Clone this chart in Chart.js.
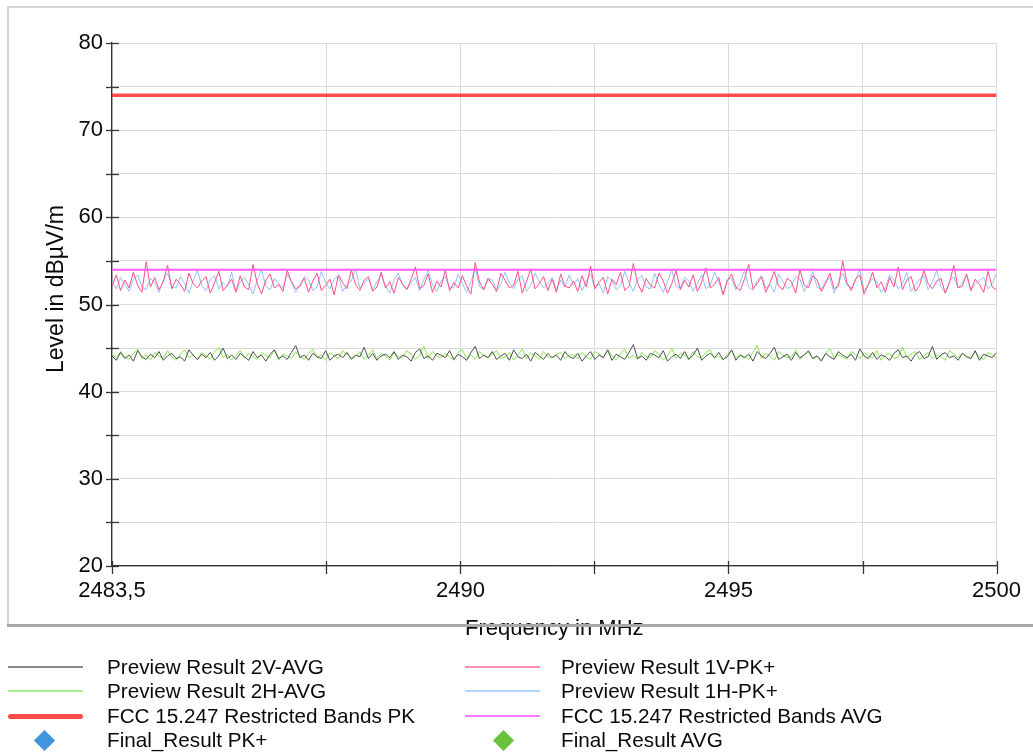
<!DOCTYPE html>
<html>
<head>
<meta charset="utf-8">
<script src="https://cdn.jsdelivr.net/npm/chart.js@4.4.1/dist/chart.umd.min.js"></script>
<style>
  body { margin: 0; background: #fff; font-family: "Liberation Sans", Arial, sans-serif; }
  #wrap { position: absolute; left: 0; top: 0; width: 1033px; height: 650px; }
  .legend { position: absolute; left: 0; top: 0; width: 1033px; height: 753px; pointer-events: none; }
  .row { position: absolute; height: 24px; line-height: 24px; font-size: 20.7px; color: #0a0a0a; white-space: nowrap; }
  .sample { position: absolute; height: 2px; }
  .diamond { position: absolute; width: 15px; height: 15px; transform: rotate(45deg); }
</style>
</head>
<body>
<div id="wrap"><canvas id="myChart" width="1033" height="650"></canvas></div>
<div class="legend" id="legend"></div>
<script>
// frequency range and ticks
const freqStart = 2483.5;
const freqEnd = 2500;
const xTickValues = [2483.5, 2487.5, 2490, 2492.5, 2495, 2497.5, 2500];
const xTickLabels = ['2483,5', '', '2490', '', '2495', '', '2500'];
const yTickLabels = ['20', '30', '40', '50', '60', '70', '80'];

// limit lines
const limitPK = [74, 74];
const limitAVG = [54, 54];

// preview traces
const preview1V = [52.1,53.4,51.6,52.8,51.9,53.7,52.2,51.4,54.9,52.0,53.1,51.7,52.6,54.5,51.8,52.9,52.3,51.5,53.6,52.4,51.9,52.7,53.2,51.3,52.5,53.8,51.6,52.2,52.9,51.4,53.3,52.0,51.7,54.6,52.4,51.2,52.8,53.5,51.9,52.3,51.5,53.9,52.6,51.8,52.1,53.0,51.4,52.7,53.6,51.6,52.2,52.9,51.1,53.4,52.5,51.8,54.0,52.3,51.6,52.8,53.2,51.5,52.0,53.7,51.9,52.6,51.3,53.1,52.4,51.7,52.9,54.3,51.8,52.2,53.5,51.4,52.7,52.0,53.9,51.6,52.5,51.9,53.3,52.1,51.2,54.8,52.6,51.7,53.0,52.3,51.5,53.6,52.8,51.9,52.2,53.8,51.3,52.6,54.1,51.8,52.4,53.2,51.6,52.9,51.4,53.5,52.1,51.9,
  52.7,51.5,53.3,52.0,54.4,51.8,52.6,53.1,51.2,52.9,52.3,53.7,51.6,52.1,54.7,52.5,51.4,53.0,52.2,51.9,53.6,52.7,51.3,52.4,53.9,51.7,52.8,52.0,53.4,51.5,52.6,54.2,51.9,52.3,53.1,51.1,52.7,53.5,52.0,51.6,52.9,54.6,51.8,52.4,53.2,51.4,52.5,53.8,52.1,51.7,53.0,52.6,51.3,54.0,52.2,51.9,53.3,52.8,51.5,52.4,53.6,51.8,52.1,55.0,52.5,51.6,52.9,53.4,51.2,52.3,53.7,51.9,52.6,51.4,53.1,52.0,54.3,51.7,52.8,53.2,51.5,52.2,53.9,52.4,51.8,52.7,53.0,51.3,52.5,54.5,51.9,52.1,53.5,51.6,52.9,52.3,51.4,53.8,52.0,51.7];
const preview1H = [52.6,51.8,53.1,52.3,51.5,52.9,53.4,52.0,51.7,53.0,52.5,51.4,52.8,53.6,52.1,51.9,53.2,52.4,51.3,52.7,53.9,52.2,51.6,52.9,53.3,51.8,52.5,52.0,53.7,51.5,52.6,53.1,52.3,51.2,52.8,54.0,52.1,51.7,53.0,52.4,51.9,53.5,52.6,51.4,52.2,53.2,52.8,51.6,52.0,53.8,52.5,51.8,52.9,53.3,51.5,52.3,52.7,54.1,51.9,52.4,53.0,51.7,52.6,53.4,52.1,51.3,52.8,53.6,52.2,51.8,52.5,53.1,51.6,52.9,53.9,52.3,51.5,52.7,53.2,52.0,51.9,53.5,52.4,51.4,52.6,54.2,52.1,51.7,53.0,52.8,51.6,52.3,53.7,52.5,51.8,52.9,53.3,51.5,52.2,53.6,52.6,51.9,52.4,53.1,51.7,52.8,52.0,53.4,
  52.2,53.0,51.6,52.7,53.5,51.9,52.4,51.3,53.2,52.8,51.7,52.1,53.8,52.5,51.5,52.9,53.3,52.0,51.8,53.6,52.3,51.4,52.6,54.0,52.1,51.9,53.1,52.7,51.5,52.4,53.4,51.8,52.2,53.7,52.6,51.2,52.9,53.0,51.7,52.5,53.9,52.0,51.6,52.8,53.3,51.9,52.3,51.4,53.5,52.6,51.8,52.1,53.2,52.9,51.5,52.4,53.8,52.0,51.7,52.7,53.1,51.3,52.5,53.6,52.2,51.9,52.8,54.1,51.6,52.3,53.0,52.6,51.4,52.0,53.4,52.8,51.8,52.4,53.7,51.5,52.2,52.9,53.3,51.7,52.6,53.9,52.1,51.3,52.7,53.2,51.9,52.5,53.5,51.6,52.3,52.8,53.1,51.8,52.4,53.6];
const preview2V = [44.1,43.6,44.5,43.8,44.2,43.5,44.7,44.0,43.7,44.3,43.9,44.6,43.6,44.1,44.4,43.8,44.0,43.5,44.8,44.2,43.7,44.3,43.9,44.5,43.6,44.1,45.0,43.8,44.2,43.7,44.4,44.0,43.6,44.6,43.9,44.2,43.5,44.3,44.8,43.8,44.1,43.7,44.5,45.3,43.9,44.2,43.6,44.4,44.0,43.8,44.7,43.6,44.1,44.3,43.9,44.5,43.7,44.2,44.0,45.1,43.8,44.4,43.6,44.1,44.3,43.9,44.6,43.7,44.2,44.0,43.5,44.5,44.9,43.8,44.1,43.6,44.4,44.2,43.9,44.7,43.7,44.3,44.0,43.6,44.5,45.2,43.8,44.2,43.9,44.6,43.7,44.1,44.4,43.6,44.8,44.0,43.8,44.3,43.5,44.5,44.1,43.7,44.4,43.9,44.2,43.6,44.6,44.0,
  43.8,44.4,43.5,44.1,44.6,43.7,44.2,43.9,44.8,43.6,44.3,44.0,43.7,44.5,45.4,43.8,44.1,43.6,44.4,44.2,43.9,44.7,43.5,44.0,44.3,43.8,44.6,43.7,44.2,45.0,43.6,44.1,44.4,43.9,44.5,43.7,44.0,44.8,43.6,44.2,43.9,44.3,43.5,44.6,44.1,43.8,44.4,45.1,43.7,44.0,44.3,43.6,44.5,43.9,44.2,44.7,43.8,44.1,43.5,44.4,44.0,43.7,44.6,44.2,43.9,44.3,43.6,44.9,44.1,43.8,44.5,43.7,44.2,44.0,43.6,44.4,44.8,43.9,44.1,43.5,44.3,44.6,43.8,44.0,45.2,43.7,44.2,44.5,43.9,44.1,43.6,44.4,44.0,43.8,44.7,43.6,44.3,44.1,43.9,44.5];
const preview2H = [44.3,43.9,44.6,44.0,43.7,44.4,44.9,43.8,44.2,43.6,44.5,44.1,43.8,44.7,44.0,43.6,44.3,44.8,43.9,44.2,43.7,44.5,44.1,43.8,44.6,45.1,43.9,44.3,43.6,44.2,44.7,43.8,44.4,44.0,43.7,44.5,44.2,43.9,44.8,43.6,44.3,44.1,43.8,44.6,44.0,43.7,44.4,44.9,43.9,44.2,43.6,44.5,44.1,43.8,44.7,44.3,43.9,44.0,44.6,43.7,44.2,44.8,43.8,44.4,44.1,43.6,44.5,44.0,43.9,44.7,44.3,43.7,44.2,45.2,43.8,44.6,44.1,43.9,44.4,44.0,43.6,44.5,44.8,43.8,44.2,43.7,44.6,44.1,43.9,44.3,44.7,43.8,44.0,44.5,43.6,44.2,44.9,43.8,44.4,44.1,43.7,44.6,44.0,43.9,44.3,44.5,43.8,44.2,
  44.2,43.8,44.5,44.0,43.7,44.6,44.3,43.9,44.8,44.1,43.6,44.4,44.9,43.8,44.2,43.7,44.5,44.0,43.9,44.7,44.3,43.6,44.1,45.0,43.8,44.4,44.2,43.7,44.6,44.0,43.9,44.5,44.8,43.8,44.1,43.6,44.3,44.7,43.9,44.2,44.0,43.7,44.5,45.3,43.8,44.4,44.1,43.6,44.6,44.2,43.9,44.0,44.8,43.7,44.3,44.5,43.8,44.1,43.6,44.4,44.9,43.9,44.2,44.0,43.7,44.6,44.3,43.8,44.5,44.1,43.9,44.7,43.6,44.2,44.4,43.8,44.0,45.1,43.9,44.3,44.6,43.7,44.1,44.5,43.8,44.2,44.0,43.6,44.7,44.3,43.9,44.4,44.1,43.8,44.6,44.0,43.7,44.5,44.2,43.9];

// sweep points are evenly spaced over the band
const toPoints = (vals) => vals.map((v, i) => ({
  x: freqStart + i * (freqEnd - freqStart) / (vals.length - 1),
  y: v,
}));

const legendItems = [
  { label: 'Preview Result 2V-AVG', color: '#8a8a8a', width: 2, col: 0, row: 0 },
  { label: 'Preview Result 2H-AVG', color: '#a8f08a', width: 2, col: 0, row: 1 },
  { label: 'FCC 15.247 Restricted Bands PK', color: '#ff4a4a', width: 5, col: 0, row: 2 },
  { label: 'Final_Result PK+', color: '#3f96dc', diamond: true, col: 0, row: 3 },
  { label: 'Preview Result 1V-PK+', color: '#ff8fb0', width: 2, col: 1, row: 0 },
  { label: 'Preview Result 1H-PK+', color: '#b0d4ff', width: 2, col: 1, row: 1 },
  { label: 'FCC 15.247 Restricted Bands AVG', color: '#ff77ff', width: 2, col: 1, row: 2 },
  { label: 'Final_Result AVG', color: '#68c23c', diamond: true, col: 1, row: 3 },
];

// tick marks crossing the axes, y title and panel frame
const frameAndTicks = {
  id: 'frameAndTicks',
  afterDraw(chart) {
    const { ctx, chartArea, scales } = chart;
    ctx.save();
    ctx.strokeStyle = '#333';
    ctx.lineWidth = 1.3;
    for (let v = 20; v <= 80; v += 5) {
      const y = Math.round(scales.y.getPixelForValue(v)) + 0.5;
      ctx.beginPath();
      ctx.moveTo(chartArea.left - 6, y);
      ctx.lineTo(chartArea.left + 7, y);
      ctx.stroke();
    }
    xTickValues.forEach((v) => {
      const x = Math.round(scales.x.getPixelForValue(v)) + 0.5;
      ctx.beginPath();
      ctx.moveTo(x, chartArea.bottom - 5);
      ctx.lineTo(x, chartArea.bottom + 8);
      ctx.stroke();
    });
    // y axis title, sits a bit above the middle like the original
    ctx.save();
    ctx.translate(57, 289);
    ctx.rotate(-Math.PI / 2);
    ctx.fillStyle = '#0a0a0a';
    ctx.font = '23px "Liberation Sans"';
    ctx.textAlign = 'center';
    ctx.textBaseline = 'middle';
    ctx.fillText('Level in dBµV/m', 0, 0);
    ctx.restore();
    // panel border
    ctx.strokeStyle = '#d4d4d4';
    ctx.lineWidth = 2;
    ctx.beginPath();
    ctx.moveTo(8, 625);
    ctx.lineTo(8, 7);
    ctx.lineTo(1033, 7);
    ctx.stroke();
    ctx.strokeStyle = '#a8a8a8';
    ctx.lineWidth = 3;
    ctx.beginPath();
    ctx.moveTo(7, 625.5);
    ctx.lineTo(1033, 625.5);
    ctx.stroke();
    ctx.restore();
  }
};

const ctx = document.getElementById('myChart');
new Chart(ctx, {
  type: 'line',
  data: {
    datasets: [
      { label: 'FCC 15.247 Restricted Bands PK', data: [{ x: freqStart, y: limitPK[0] }, { x: freqEnd, y: limitPK[1] }],
        borderColor: 'rgba(255,45,45,0.85)', borderWidth: 3.5, pointRadius: 0, order: 0 },
      { label: 'FCC 15.247 Restricted Bands AVG', data: [{ x: freqStart, y: limitAVG[0] }, { x: freqEnd, y: limitAVG[1] }],
        borderColor: '#ff5cff', borderWidth: 2, pointRadius: 0, order: 1 },
      { label: 'Preview Result 1H-PK+', data: toPoints(preview1H),
        borderColor: '#94c0ff', borderWidth: 1, pointRadius: 0, order: 3 },
      { label: 'Preview Result 1V-PK+', data: toPoints(preview1V),
        borderColor: '#ff4f86', borderWidth: 1, pointRadius: 0, order: 2 },
      { label: 'Preview Result 2H-AVG', data: toPoints(preview2H),
        borderColor: '#86e84e', borderWidth: 1, pointRadius: 0, order: 5 },
      { label: 'Preview Result 2V-AVG', data: toPoints(preview2V),
        borderColor: '#505050', borderWidth: 1, pointRadius: 0, order: 4 },
    ],
  },
  options: {
    responsive: false,
    animation: false,
    layout: { padding: { left: 0, top: 43, right: 36, bottom: 0 } },
    plugins: { legend: { display: false }, tooltip: { enabled: false } },
    scales: {
      x: {
        type: 'linear',
        min: freqStart,
        max: freqEnd,
        afterBuildTicks: (scale) => { scale.ticks = xTickValues.map((v) => ({ value: v })); },
        afterFit: (scale) => { scale.height = 84; },
        grid: { color: '#dadada', lineWidth: 1, drawTicks: false },
        border: { color: '#333', width: 1.3 },
        ticks: {
          autoSkip: false,
          maxRotation: 0,
          padding: 12,
          color: '#0a0a0a',
          font: { family: 'Liberation Sans', size: 22 },
          callback: (value) => {
            const i = xTickValues.indexOf(value);
            return i >= 0 ? xTickLabels[i] : '';
          },
        },
        title: {
          display: true,
          text: 'Frequency in MHz',
          color: '#0a0a0a',
          font: { family: 'Liberation Sans', size: 22 },
          padding: { top: 4, bottom: 8 },
        },
      },
      y: {
        min: 20,
        max: 80,
        afterFit: (scale) => { scale.width = 112; },
        grid: { color: '#dadada', lineWidth: 1, drawTicks: false },
        border: { color: '#333', width: 1.3 },
        ticks: {
          stepSize: 5,
          padding: 9,
          color: '#0a0a0a',
          font: { family: 'Liberation Sans', size: 22 },
          callback: (value) => yTickLabels.includes(String(value)) ? String(value) : '',
        },
      },
    },
  },
  plugins: [frameAndTicks],
});

// legend below the panel, two columns
const legendEl = document.getElementById('legend');
const rowY = [667, 691, 716, 740];
const colX = [{ line: 8, text: 107, mark: 44 }, { line: 465, text: 561, mark: 503 }];
legendItems.forEach((it) => {
  const c = colX[it.col];
  const y = rowY[it.row];
  if (it.diamond) {
    const d = document.createElement('div');
    d.className = 'diamond';
    d.style.left = (c.mark - 7.5) + 'px';
    d.style.top = (y - 7.5) + 'px';
    d.style.background = it.color;
    legendEl.appendChild(d);
  } else {
    const s = document.createElement('div');
    s.className = 'sample';
    s.style.left = c.line + 'px';
    s.style.width = '75px';
    s.style.top = (y - it.width / 2) + 'px';
    s.style.height = it.width + 'px';
    s.style.background = it.color;
    if (it.width > 3) s.style.borderRadius = '3px';
    legendEl.appendChild(s);
  }
  const t = document.createElement('div');
  t.className = 'row';
  t.style.left = c.text + 'px';
  t.style.top = (y - 12) + 'px';
  t.textContent = it.label;
  legendEl.appendChild(t);
});
</script>
</body>
</html>
